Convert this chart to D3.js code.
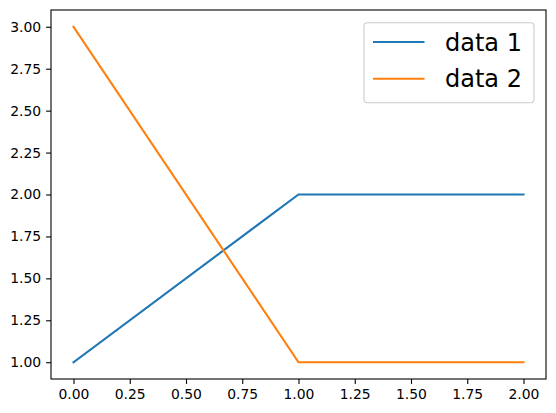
<!DOCTYPE html>
<html>
<head>
<meta charset="utf-8">
<script src="https://cdn.jsdelivr.net/npm/d3@7"></script>
<style>
  html, body { margin: 0; padding: 0; background: #fff; }
  svg { display: block; font-family: "DejaVu Sans", sans-serif; }
</style>
</head>
<body>
<div id="chart"></div>
<script>
// data
const xValues = [0, 1, 2];
const data1 = [1, 2, 2];
const data2 = [3, 1, 1];
const seriesNames = ["data 1", "data 2"];
const xTicks = [0, 0.25, 0.5, 0.75, 1, 1.25, 1.5, 1.75, 2];
const yTicks = [1, 1.25, 1.5, 1.75, 2, 2.25, 2.5, 2.75, 3];

const W = 556, H = 413;
const mLeft = 51, mRight = 546, mTop = 10, mBottom = 379;
const colors = ["#1f77b4", "#ff7f0e"];

const svg = d3.select("#chart").append("svg")
  .attr("width", W).attr("height", H);

const x = d3.scaleLinear().domain([-0.1, 2.1]).range([mLeft, mRight]);
const y = d3.scaleLinear().domain([0.9, 3.1]).range([mBottom, mTop]);

const line = d3.line().x(d => x(d[0])).y(d => y(d[1]));

[data1, data2].forEach((vals, i) => {
  svg.append("path")
    .datum(xValues.map((v, j) => [v, vals[j]]))
    .attr("fill", "none")
    .attr("stroke", colors[i])
    .attr("stroke-width", 2.1)
    .attr("stroke-linecap", "square")
    .attr("d", line);
});

const xAxis = d3.axisBottom(x).tickValues(xTicks)
  .tickFormat(d3.format(".2f")).tickSize(4.9).tickPadding(4.9);
const yAxis = d3.axisLeft(y).tickValues(yTicks)
  .tickFormat(d3.format(".2f")).tickSize(4.9).tickPadding(4.9);

const gx = svg.append("g").attr("transform", `translate(0,${mBottom})`).call(xAxis);
const gy = svg.append("g").attr("transform", `translate(${mLeft},0)`).call(yAxis);
[gx, gy].forEach(g => {
  g.select(".domain").remove();
  g.selectAll(".tick line").attr("stroke", "#000").attr("stroke-width", 1.1);
  g.selectAll(".tick text")
    .attr("fill", "#000")
    .style("font-family", "'DejaVu Sans', sans-serif")
    .style("font-size", "13.9px");
});

// axes frame
svg.append("rect")
  .attr("x", mLeft).attr("y", mTop)
  .attr("width", mRight - mLeft).attr("height", mBottom - mTop)
  .attr("fill", "none").attr("stroke", "#000").attr("stroke-width", 1.1);

// legend
const lg = svg.append("g");
lg.append("rect")
  .attr("x", 364).attr("y", 22.7)
  .attr("width", 170).attr("height", 80)
  .attr("rx", 3.5)
  .attr("fill", "#fff").attr("fill-opacity", 0.8)
  .attr("stroke", "#cccccc").attr("stroke-width", 1.1);

seriesNames.forEach((name, i) => {
  const ly = 42 + i * 36.7;
  lg.append("line")
    .attr("x1", 373).attr("x2", 424.5)
    .attr("y1", ly).attr("y2", ly)
    .attr("stroke", colors[i]).attr("stroke-width", 2.1);
  lg.append("text")
    .attr("x", 445).attr("y", ly + 8.5)
    .style("font-size", "24px")
    .attr("fill", "#000")
    .text(name);
});
</script>
</body>
</html>
